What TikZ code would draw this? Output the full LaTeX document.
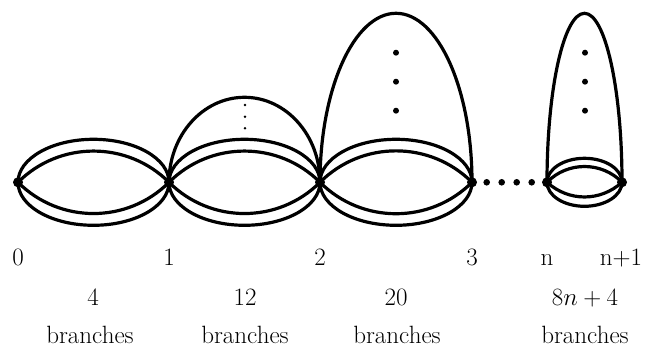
\documentclass[tikz,border=0pt]{standalone}
\begin{document}
\begin{tikzpicture}[x=1pt,y=1pt,
  vtx/.style={circle,fill=black,inner sep=0pt,minimum size=10pt},
  edge/.style={line width=3.2pt},
  lbl/.style={inner sep=0pt,anchor=base,font=\fontsize{25}{30}\selectfont}]
\useasboundingbox (0,0) rectangle (647,347);
\def\vy{164.7}
\node[vtx] (v0) at (18,\vy) {};
\node[vtx] (v1) at (169,\vy) {};
\node[vtx] (v2) at (320,\vy) {};
\node[vtx] (v3) at (472,\vy) {};
\node[vtx] (v4) at (547,\vy) {};
\node[vtx] (v5) at (622,\vy) {};
% segment 0-1
\draw[edge] (v0.center) arc[start angle=180,end angle=-180,x radius=75.5,y radius=43];
\draw[edge] (v0.center) to[bend left=45] (v1.center);
\draw[edge] (v0.center) to[bend right=45] (v1.center);
% segment 1-2
\draw[edge] (v1.center) arc[start angle=180,end angle=-180,x radius=75.5,y radius=43];
\draw[edge] (v1.center) to[bend left=45] (v2.center);
\draw[edge] (v1.center) to[bend right=45] (v2.center);
\draw[edge] (v1.center) arc[start angle=180,end angle=0,x radius=75.5,y radius=85];
\foreach \y in {105,116.7,128.3} \fill (245,347-\y) circle (1.4);
% segment 2-3
\draw[edge] (v2.center) arc[start angle=180,end angle=-180,x radius=76,y radius=43];
\draw[edge] (v2.center) to[bend left=45] (v3.center);
\draw[edge] (v2.center) to[bend right=45] (v3.center);
\draw[edge] (v2.center) arc[start angle=180,end angle=0,x radius=76,y radius=169];
\foreach \y in {52.7,81.7,110.7} \fill (396,347-\y) circle (3);
% ellipsis
\foreach \x in {486.7,501.7,516.7,531.7} \fill (\x,\vy) circle (3.3);
% segment n-(n+1)
\draw[edge] (v4.center) arc[start angle=180,end angle=-180,x radius=37.5,y radius=24];
\draw[edge] (v4.center) to[bend left=46] (v5.center);
\draw[edge] (v4.center) to[bend right=42] (v5.center);
\draw[edge] (v4.center) arc[start angle=180,end angle=0,x radius=37.5,y radius=169];
\foreach \y in {52.7,81.7,110.7} \fill (585,347-\y) circle (3);
% labels
\node[lbl] (l0) at (18,81) {0};
\node[lbl] (l1) at (169,81) {1};
\node[lbl] (l2) at (320,81) {2};
\node[lbl] (l3) at (472,81) {3};
\node[lbl] (l4) at (547,81) {n};
\node[lbl] (l5) at (621,81) {n+1};
\node[lbl] (c1) at (93,41.3) {4};
\node[lbl] (c2) at (245,41.3) {12};
\node[lbl] (c3) at (396,41.3) {20};
\node[lbl] (c4) at (585,41.3) {$8n+4$};
\node[lbl] (b1) at (90,3.5) {branches};
\node[lbl] (b2) at (245,3.5) {branches};
\node[lbl] (b3) at (397,3.5) {branches};
\node[lbl] (b4) at (585,3.5) {branches};
\end{tikzpicture}
\end{document}
